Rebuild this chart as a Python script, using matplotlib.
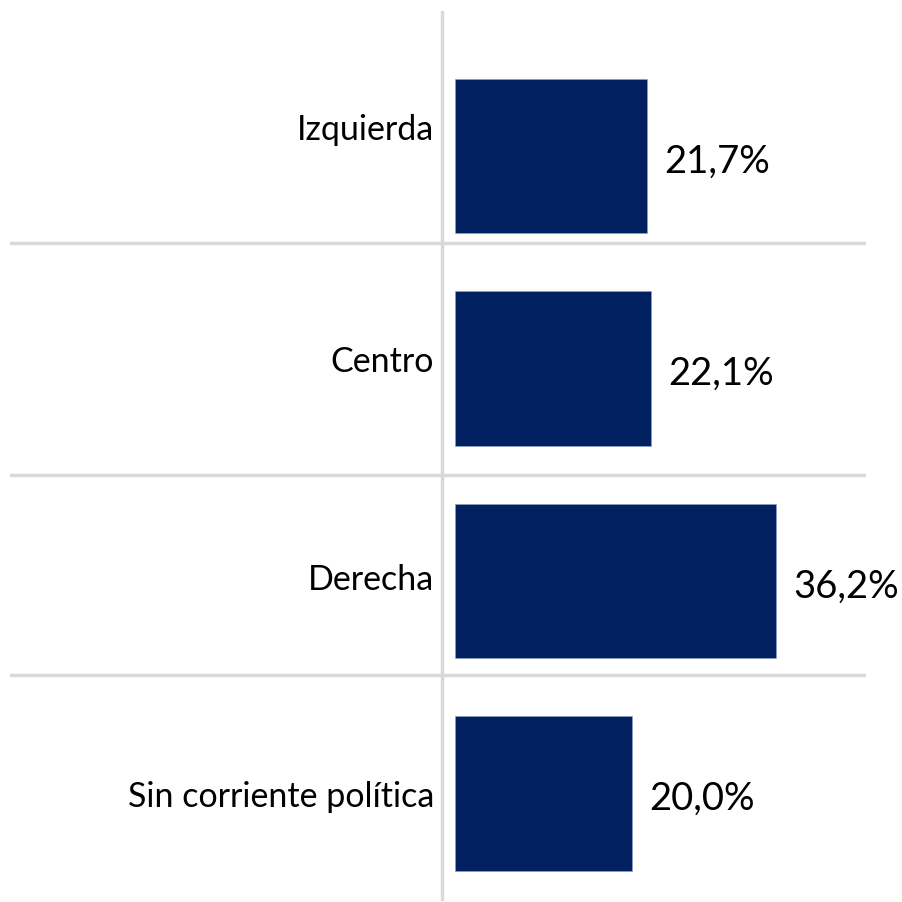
import matplotlib
matplotlib.use('Agg')
import matplotlib.pyplot as plt
import numpy as np

# data
categories = ['Izquierda', 'Centro', 'Derecha', 'Sin corriente política']
values = [21.7, 22.1, 36.2, 20.0]
value_labels = ['21,7%', '22,1%', '36,2%', '20,0%']

bar_color = '#002060'
grid_color = '#d9d9d9'
plt.rcParams['font.family'] = ['Lato', 'DejaVu Sans']

fig = plt.figure(figsize=(9.02, 9.03), dpi=100)
W, H = 902, 903
ax = fig.add_axes([10 / W, 1 / H, 856 / W, 890 / H])

# pixel scale: 8.87 px per percent, zero at px 455, axis at px 442
px_per = 8.87
ax.set_xlim(-445 / px_per, 411 / px_per)
pitch = 212.5
ax.set_ylim((902 - 157) / pitch, (12 - 157) / pitch)

y = np.arange(len(categories))
ax.barh(y, values, height=0.725, color=bar_color, edgecolor='#8ea2c8', linewidth=0.4)

# vertical axis line
ax.axvline(-13 / px_per, color=grid_color, lw=2.5, zorder=0)
# separator lines
for s in [0.408, 1.503, 2.444]:
    ax.axhline(s, color=grid_color, lw=2.5, zorder=0)

label_offset = [-0.128, -0.035, -0.01, 0.01]
for i, (c, v, vl) in enumerate(zip(categories, values, value_labels)):
    ax.text(-21 / px_per, y[i] + label_offset[i], c, ha='right', va='center',
            fontsize=24.5, color='#000000')
    ax.text(v + 17 / px_per, y[i] + 0.02, vl, ha='left', va='center',
            fontsize=27.5, color='#000000')

ax.axis('off')
plt.savefig('out.png', dpi=100)
